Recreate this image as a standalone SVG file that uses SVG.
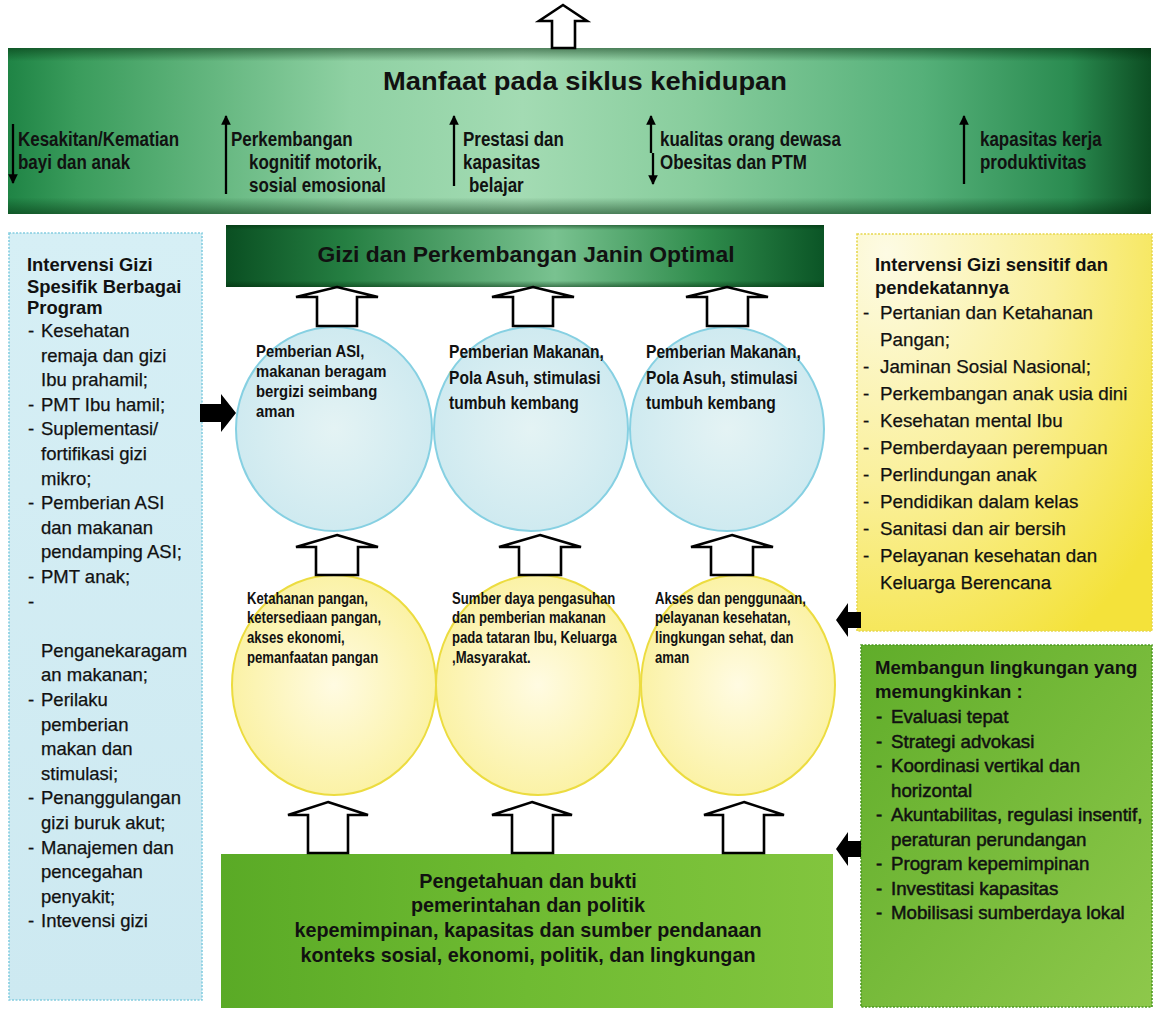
<svg xmlns="http://www.w3.org/2000/svg" width="1158" height="1011" viewBox="0 0 1158 1011">
<style>
.f{font-family:"Liberation Sans",Arial,sans-serif;fill:#111}
.b{font-weight:bold}
.it{font-size:18.5px;stroke:#111;stroke-width:0.25}
.hd{font-size:18.4px;font-weight:bold}
.nb{font-weight:bold;font-size:19.5px}
.hol{fill:#fff;stroke:#000;stroke-width:2.6;stroke-linejoin:miter}
.blk{fill:#000}
.thin{stroke:#000;stroke-width:2.3;fill:none}
.bc{fill:url(#blueC);stroke:#86d0e2;stroke-width:2}
.yc{fill:url(#yelC);stroke:#ecdc40;stroke-width:2}
</style>
<defs>
<linearGradient id="topG" x1="0" y1="0" x2="1" y2="0">
<stop offset="0" stop-color="#1f8445"/><stop offset="0.06" stop-color="#3a9c5c"/><stop offset="0.3" stop-color="#8fd1a3"/><stop offset="0.45" stop-color="#a3dbb3"/><stop offset="0.6" stop-color="#88cd9d"/><stop offset="0.8" stop-color="#55b079"/><stop offset="0.93" stop-color="#2a8b50"/><stop offset="1" stop-color="#0c4d22"/>
</linearGradient>
<linearGradient id="vShade" x1="0" y1="0" x2="0" y2="1">
<stop offset="0" stop-color="#002a0a" stop-opacity="0.5"/><stop offset="0.08" stop-color="#002a0a" stop-opacity="0"/><stop offset="0.9" stop-color="#002a0a" stop-opacity="0"/><stop offset="1" stop-color="#002a0a" stop-opacity="0.5"/>
</linearGradient>
<linearGradient id="midG" x1="0" y1="0" x2="1" y2="0">
<stop offset="0" stop-color="#0a4f22"/><stop offset="0.2" stop-color="#257f42"/><stop offset="0.55" stop-color="#79c290"/><stop offset="0.8" stop-color="#2f8c4c"/><stop offset="1" stop-color="#0b5526"/>
</linearGradient>
<linearGradient id="botG" x1="0" y1="0" x2="1" y2="0">
<stop offset="0" stop-color="#5aaa26"/><stop offset="0.5" stop-color="#6fbb32"/><stop offset="1" stop-color="#82c53e"/>
</linearGradient>
<linearGradient id="grnG" x1="0" y1="0" x2="1" y2="1">
<stop offset="0" stop-color="#60ad2a"/><stop offset="1" stop-color="#8ec84b"/>
</linearGradient>
<radialGradient id="yelBox" cx="0.1" cy="0.05" r="1.15">
<stop offset="0" stop-color="#fdfbe4"/><stop offset="0.5" stop-color="#faf09c"/><stop offset="1" stop-color="#f4e23a"/>
</radialGradient>
<linearGradient id="bluBox" x1="0" y1="0" x2="0" y2="1">
<stop offset="0" stop-color="#d6eff5"/><stop offset="1" stop-color="#cde9f1"/>
</linearGradient>
<radialGradient id="blueC" cx="0.5" cy="0.5" r="0.5">
<stop offset="0" stop-color="#e4f3f4"/><stop offset="1" stop-color="#cfeaf0"/>
</radialGradient>
<radialGradient id="yelC" cx="0.5" cy="0.5" r="0.5">
<stop offset="0" stop-color="#fffbe2"/><stop offset="1" stop-color="#fbf2a6"/>
</radialGradient>
<marker id="ah" viewBox="0 0 10 10" refX="9" refY="5" markerWidth="4.2" markerHeight="5.2" orient="auto">
<path d="M0,0 L10,5 L0,10 Z" fill="#000"/>
</marker>
</defs>

<g id="manfaat">
<rect x="8" y="48" width="1143" height="166" fill="url(#topG)"/>
<rect x="8" y="48" width="1143" height="166" fill="url(#vShade)"/>
<text class="f b" x="585" y="90" font-size="26" text-anchor="middle" textLength="404" lengthAdjust="spacingAndGlyphs">Manfaat pada siklus kehidupan</text>
<line class="thin" x1="13" y1="124" x2="13" y2="183" marker-end="url(#ah)"/>
<text class="f nb" transform="translate(18,146) scale(0.87,1)">Kesakitan/Kematian</text>
<text class="f nb" transform="translate(18,169) scale(0.87,1)">bayi dan anak</text>
<line class="thin" x1="226" y1="194" x2="226" y2="116" marker-end="url(#ah)"/>
<text class="f nb" transform="translate(231,146) scale(0.87,1)">Perkembangan</text>
<text class="f nb" transform="translate(249,169) scale(0.87,1)">kognitif motorik,</text>
<text class="f nb" transform="translate(249,192) scale(0.87,1)">sosial emosional</text>
<line class="thin" x1="454" y1="186" x2="454" y2="116" marker-end="url(#ah)"/>
<text class="f nb" transform="translate(463,146) scale(0.87,1)">Prestasi dan</text>
<text class="f nb" transform="translate(463,169) scale(0.87,1)">kapasitas</text>
<text class="f nb" transform="translate(469,192) scale(0.87,1)">belajar</text>
<line class="thin" x1="651" y1="153" x2="651" y2="116" marker-end="url(#ah)"/>
<line class="thin" x1="653" y1="153" x2="653" y2="184" marker-end="url(#ah)"/>
<text class="f nb" transform="translate(660,146) scale(0.87,1)">kualitas orang dewasa</text>
<text class="f nb" transform="translate(660,169) scale(0.87,1)">Obesitas dan PTM</text>
<line class="thin" x1="964" y1="184" x2="964" y2="116" marker-end="url(#ah)"/>
<text class="f nb" transform="translate(980,146) scale(0.87,1)">kapasitas kerja</text>
<text class="f nb" transform="translate(980,169) scale(0.87,1)">produktivitas</text>
</g>

<g id="gizi-janin">
<rect x="226" y="225" width="598" height="62" fill="url(#midG)"/>
<rect x="226" y="225" width="598" height="62" fill="url(#vShade)"/>
<text class="f b" x="526" y="262" font-size="22.5" text-anchor="middle" textLength="417" lengthAdjust="spacingAndGlyphs">Gizi dan Perkembangan Janin Optimal</text>
</g>

<g id="spesifik">
<rect x="9" y="233" width="193" height="767" fill="url(#bluBox)" stroke="#84cde0" stroke-width="1.6" stroke-dasharray="2 1.5"/>
<text class="f hd" x="27" y="271">Intervensi Gizi</text>
<text class="f hd" x="27" y="293">Spesifik Berbagai</text>
<text class="f hd" x="27" y="314">Program</text>
<g class="f it">
<text x="28" y="337">-</text><text x="41" y="337">Kesehatan</text>
<text x="41" y="361.6">remaja dan gizi</text>
<text x="41" y="386.2">Ibu prahamil;</text>
<text x="28" y="410.8">-</text><text x="41" y="410.8">PMT Ibu hamil;</text>
<text x="28" y="435.4">-</text><text x="41" y="435.4">Suplementasi/</text>
<text x="41" y="460">fortifikasi gizi</text>
<text x="41" y="484.6">mikro;</text>
<text x="28" y="509.2">-</text><text x="41" y="509.2">Pemberian ASI</text>
<text x="41" y="533.8">dan makanan</text>
<text x="41" y="558.4">pendamping ASI;</text>
<text x="28" y="583">-</text><text x="41" y="583">PMT anak;</text>
<text x="28" y="607.6">-</text>
<text x="41" y="656.8">Penganekaragam</text>
<text x="41" y="681.4">an makanan;</text>
<text x="28" y="706">-</text><text x="41" y="706">Perilaku</text>
<text x="41" y="730.6">pemberian</text>
<text x="41" y="755.2">makan dan</text>
<text x="41" y="779.8">stimulasi;</text>
<text x="28" y="804.4">-</text><text x="41" y="804.4">Penanggulangan</text>
<text x="41" y="829">gizi buruk akut;</text>
<text x="28" y="853.6">-</text><text x="41" y="853.6">Manajemen dan</text>
<text x="41" y="878.2">pencegahan</text>
<text x="41" y="902.8">penyakit;</text>
<text x="28" y="927.4">-</text><text x="41" y="927.4">Intevensi gizi</text>
</g>
</g>

<g id="sensitif">
<rect x="857" y="234" width="295" height="397" fill="url(#yelBox)" stroke="#e6d84e" stroke-width="1.6" stroke-dasharray="2 1.5"/>
<text class="f hd" x="875" y="271">Intervensi Gizi sensitif dan</text>
<text class="f hd" x="875" y="294">pendekatannya</text>
<g class="f it" style="font-size:18.8px">
<text x="863" y="319">-</text><text x="880" y="319">Pertanian dan Ketahanan</text>
<text x="880" y="346">Pangan;</text>
<text x="863" y="373">-</text><text x="880" y="373">Jaminan Sosial Nasional;</text>
<text x="863" y="400">-</text><text x="880" y="400">Perkembangan anak usia dini</text>
<text x="863" y="427">-</text><text x="880" y="427">Kesehatan mental Ibu</text>
<text x="863" y="454">-</text><text x="880" y="454">Pemberdayaan perempuan</text>
<text x="863" y="481">-</text><text x="880" y="481">Perlindungan anak</text>
<text x="863" y="508">-</text><text x="880" y="508">Pendidikan dalam kelas</text>
<text x="863" y="535">-</text><text x="880" y="535">Sanitasi dan air bersih</text>
<text x="863" y="562">-</text><text x="880" y="562">Pelayanan kesehatan dan</text>
<text x="880" y="589">Keluarga Berencana</text>
</g>
</g>

<g id="lingkungan">
<rect x="861" y="645" width="291" height="362" fill="url(#grnG)" stroke="#4e9a22" stroke-width="1.6" stroke-dasharray="2 1.5"/>
<text class="f hd" x="875" y="674" style="font-size:18.6px">Membangun lingkungan yang</text>
<text class="f hd" x="875" y="698" style="font-size:18.6px">memungkinkan :</text>
<g class="f it" style="font-size:18.7px;stroke-width:0.5">
<text x="876" y="723">-</text><text x="891" y="723">Evaluasi tepat</text>
<text x="876" y="747.5">-</text><text x="891" y="747.5">Strategi advokasi</text>
<text x="876" y="772">-</text><text x="891" y="772">Koordinasi vertikal dan</text>
<text x="891" y="796.5">horizontal</text>
<text x="876" y="821">-</text><text x="891" y="821">Akuntabilitas, regulasi insentif,</text>
<text x="891" y="845.5">peraturan perundangan</text>
<text x="876" y="870">-</text><text x="891" y="870">Program kepemimpinan</text>
<text x="876" y="894.5">-</text><text x="891" y="894.5">Investitasi kapasitas</text>
<text x="876" y="919">-</text><text x="891" y="919">Mobilisasi sumberdaya lokal</text>
</g>
</g>

<g id="pengetahuan">
<rect x="221" y="854" width="612" height="154" fill="url(#botG)"/>
<g class="f b" font-size="19.8" text-anchor="middle">
<text x="528" y="888">Pengetahuan dan bukti</text>
<text x="528" y="912">pemerintahan dan politik</text>
<text x="528" y="937">kepemimpinan, kapasitas dan sumber pendanaan</text>
<text x="528" y="962">konteks sosial, ekonomi, politik, dan lingkungan</text>
</g>
</g>

<g id="blue-1">
<ellipse class="bc" cx="334" cy="429" rx="98" ry="102"/>
<g class="f b" font-size="16.5">
<text transform="translate(256,357) scale(0.9,1)">Pemberian ASI,</text>
<text transform="translate(256,377) scale(0.9,1)">makanan beragam</text>
<text transform="translate(256,397) scale(0.9,1)">bergizi seimbang</text>
<text transform="translate(256,417) scale(0.9,1)">aman</text>
</g>
</g>
<g id="blue-2">
<ellipse class="bc" cx="531" cy="429" rx="97" ry="102"/>
<g class="f b" font-size="19">
<text transform="translate(449,358) scale(0.82,1)">Pemberian Makanan,</text>
<text transform="translate(449,384) scale(0.82,1)">Pola Asuh, stimulasi</text>
<text transform="translate(449,409) scale(0.82,1)">tumbuh kembang</text>
</g>
</g>
<g id="blue-3">
<ellipse class="bc" cx="727" cy="429" rx="97" ry="102"/>
<g class="f b" font-size="19">
<text transform="translate(646,358) scale(0.82,1)">Pemberian Makanan,</text>
<text transform="translate(646,384) scale(0.82,1)">Pola Asuh, stimulasi</text>
<text transform="translate(646,409) scale(0.82,1)">tumbuh kembang</text>
</g>
</g>

<g id="yellow-1">
<ellipse class="yc" cx="334" cy="685" rx="102" ry="110"/>
<g class="f b" font-size="16">
<text transform="translate(247,604) scale(0.82,1)">Ketahanan pangan,</text>
<text transform="translate(247,623) scale(0.82,1)">ketersediaan pangan,</text>
<text transform="translate(247,643) scale(0.82,1)">akses ekonomi,</text>
<text transform="translate(247,663) scale(0.82,1)">pemanfaatan pangan</text>
</g>
</g>
<g id="yellow-2">
<ellipse class="yc" cx="538" cy="685" rx="102" ry="110"/>
<g class="f b" font-size="16">
<text transform="translate(452,604) scale(0.82,1)">Sumber daya pengasuhan</text>
<text transform="translate(452,623) scale(0.82,1)">dan pemberian makanan</text>
<text transform="translate(452,643) scale(0.82,1)">pada tataran Ibu, Keluarga</text>
<text transform="translate(452,663) scale(0.82,1)">,Masyarakat.</text>
</g>
</g>
<g id="yellow-3">
<ellipse class="yc" cx="738" cy="685" rx="97" ry="110"/>
<g class="f b" font-size="16">
<text transform="translate(655,604) scale(0.82,1)">Akses dan penggunaan,</text>
<text transform="translate(655,623) scale(0.82,1)">pelayanan kesehatan,</text>
<text transform="translate(655,643) scale(0.82,1)">lingkungan sehat,  dan</text>
<text transform="translate(655,663) scale(0.82,1)">aman</text>
</g>
</g>

<g id="connectors">
<polygon class="hol" points="563,5 587,21 575,21 575,48 552,48 552,21 539,21"/>
<polygon class="hol" points="337,287 378,297 357,297 357,326 317,326 317,297 296,297"/>
<polygon class="hol" points="533,287 574,297 553,297 553,326 513,326 513,297 492,297"/>
<polygon class="hol" points="727,287 768,297 748,297 748,326 707,326 707,297 686,297"/>
<polygon class="hol" points="337,535 378,547 358,547 358,575 316,575 316,547 296,547"/>
<polygon class="hol" points="540,535 581,547 561,547 561,575 519,575 519,547 499,547"/>
<polygon class="hol" points="732,535 773,547 753,547 753,575 711,575 711,547 691,547"/>
<polygon class="hol" points="328,802 368,815 348,815 348,853 308,853 308,815 288,815"/>
<polygon class="hol" points="532,802 572,815 553,815 553,853 512,853 512,815 492,815"/>
<polygon class="hol" points="744,802 784,815 764,815 764,853 723,853 723,815 704,815"/>
<polygon class="blk" points="200,404 221,404 221,394 236,413 221,432 221,422 200,422"/>
<polygon class="blk" points="861,612 848,612 848,603 836,620 848,637 848,628 861,628"/>
<polygon class="blk" points="861,841 848,841 848,832 836,849 848,866 848,857 861,857"/>
</g>
</svg>
